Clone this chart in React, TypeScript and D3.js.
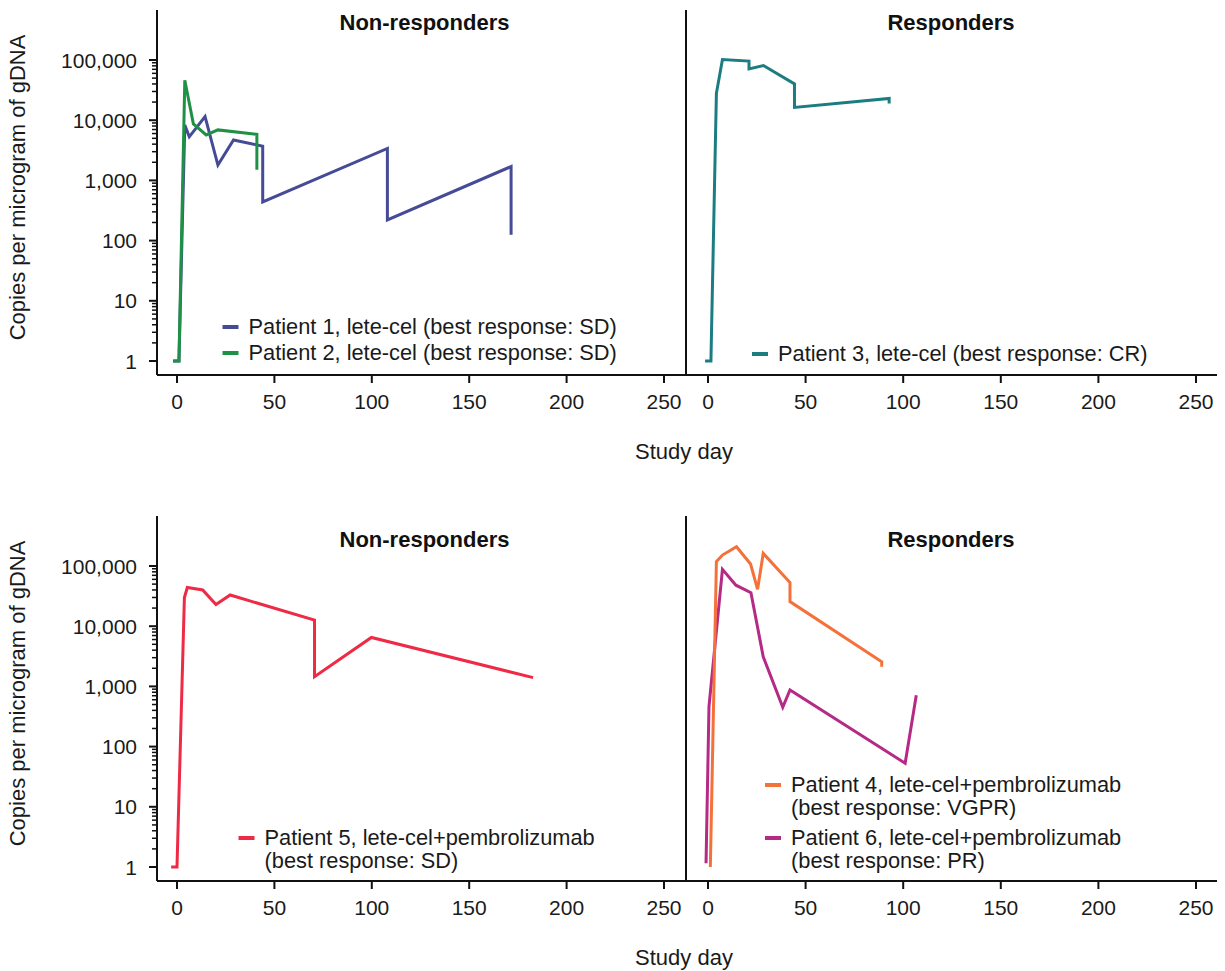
import React from "react";
import * as d3 from "d3";

// ---- Data ----
const xTicks = [0, 50, 100, 150, 200, 250];
const yMajorTicks = [1, 10, 100, 1000, 10000, 100000];
const yTickLabels = ["1", "10", "100", "1,000", "10,000", "100,000"];
const panelTitles = ["Non-responders", "Responders"];
const xAxisTitle = "Study day";
const yAxisTitle = "Copies per microgram of gDNA";

const p1Days = [-2, 1, 4, 6.3, 14.4, 21, 29, 44, 44, 108, 108, 171.5, 171.5];
const p1Values = [1, 1, 8300, 5300, 11500, 1800, 4700, 3700, 440, 3400, 220, 1700, 125];

const p2Days = [-2, 1, 4, 8.4, 15, 21, 41, 41];
const p2Values = [1, 1, 46000, 8700, 5700, 6900, 5800, 1500];

const p3Days = [-1.5, 1.5, 4.3, 7.4, 21, 21, 28.4, 44.3, 44.3, 92.8, 92.8];
const p3Values = [1, 1, 28000, 102000, 96000, 71000, 81000, 40000, 16300, 23000, 19000];

const p5Days = [-3, 0, 3.8, 5.3, 13.2, 20, 27.3, 70.6, 70.6, 99.8, 182.8];
const p5Values = [1, 1, 30000, 44000, 40000, 23000, 33000, 12600, 1450, 6500, 1400];

const p4Days = [1.2, 4.3, 7.4, 14.6, 21.8, 25.4, 28.3, 42, 42, 89, 89];
const p4Values = [1, 118000, 152000, 209000, 108000, 41000, 162000, 53000, 25600, 2570, 2130];

const p6Days = [-1, 0.5, 7.4, 14.3, 22, 28.3, 38.3, 42, 101, 106.7];
const p6Values = [1.15, 460, 88000, 48000, 36000, 3100, 450, 870, 53, 710];

const p1Label = ["Patient 1, lete-cel (best response: SD)"];
const p2Label = ["Patient 2, lete-cel (best response: SD)"];
const p3Label = ["Patient 3, lete-cel (best response: CR)"];
const p5Label = ["Patient 5, lete-cel+pembrolizumab", "(best response: SD)"];
const p4Label = ["Patient 4, lete-cel+pembrolizumab", "(best response: VGPR)"];
const p6Label = ["Patient 6, lete-cel+pembrolizumab", "(best response: PR)"];

// ---- Layout ----
const W = 1225;
const H = 971;
const FONT = "'Liberation Sans', Arial, Helvetica, sans-serif";
const rowOffsets = [0, 506];
const colExtents = [
  [157, 686],
  [686, 1217],
];
const colTickRange = [
  [177, 664],
  [708, 1196],
];
const titleX = [424.5, 951];
const titleBaseline = [29.5, 547];

type Series = {
  days: number[];
  values: number[];
  color: string;
  row: number;
  col: number;
};

const series: Series[] = [
  { days: p1Days, values: p1Values, color: "#454b97", row: 0, col: 0 },
  { days: p2Days, values: p2Values, color: "#1f9146", row: 0, col: 0 },
  { days: p3Days, values: p3Values, color: "#1b7c82", row: 0, col: 1 },
  { days: p5Days, values: p5Values, color: "#ee2a45", row: 1, col: 0 },
  { days: p6Days, values: p6Values, color: "#b42a85", row: 1, col: 1 },
  { days: p4Days, values: p4Values, color: "#f5713a", row: 1, col: 1 },
];

type Legend = { lines: string[]; color: string; x: number; y: number };
const legends: Legend[] = [
  { lines: p1Label, color: "#454b97", x: 222.5, y: 327 },
  { lines: p2Label, color: "#1f9146", x: 222.5, y: 353 },
  { lines: p3Label, color: "#1b7c82", x: 752, y: 354 },
  { lines: p5Label, color: "#ee2a45", x: 238.5, y: 838 },
  { lines: p4Label, color: "#f5713a", x: 765, y: 785 },
  { lines: p6Label, color: "#b42a85", x: 765, y: 838 },
];

function xScale(col: number) {
  return d3.scaleLinear().domain([0, 250]).range(colTickRange[col]);
}
function yScale(row: number) {
  const o = rowOffsets[row];
  return d3.scaleLog().domain([1, 100000]).range([361 + o, 60 + o]);
}

export default function App() {
  const axisColor = "#111";
  return (
    <svg
      width={W}
      height={H}
      viewBox={`0 0 ${W} ${H}`}
      style={{ position: "absolute", left: 0, top: 0, background: "#fff" }}
      fontFamily={FONT}
    >
      <rect x={0} y={0} width={W} height={H} fill="#fff" />
      {rowOffsets.map((o, row) => {
        const y = yScale(row);
        const minor = y.ticks().filter((v) => !yMajorTicks.includes(v));
        return (
          <g key={"row" + row}>
            {/* y-axis (left) */}
            <line x1={157} x2={157} y1={10 + o} y2={375 + o} stroke={axisColor} strokeWidth={2} />
            {yMajorTicks.map((v, i) => (
              <g key={"yt" + v}>
                <line x1={149} x2={157} y1={y(v)} y2={y(v)} stroke={axisColor} strokeWidth={2} />
                <text
                  x={137}
                  y={y(v)}
                  textAnchor="end"
                  dominantBaseline="central"
                  fontSize={21}
                  fill="#1a1a1a"
                >
                  {yTickLabels[i]}
                </text>
              </g>
            ))}
            {minor.map((v) => (
              <line key={"ym" + v} x1={152} x2={157} y1={y(v)} y2={y(v)} stroke={axisColor} strokeWidth={1.5} />
            ))}
            {/* divider / right panel y axis */}
            <line x1={686} x2={686} y1={10 + o} y2={375 + o} stroke={axisColor} strokeWidth={2} />
            {/* y axis title */}
            <text
              transform={`translate(25,${187.5 + o}) rotate(-90)`}
              textAnchor="middle"
              fontSize={22}
              fill="#1a1a1a"
            >
              {yAxisTitle}
            </text>
            {/* x axes */}
            {colExtents.map((ext, col) => {
              const x = xScale(col);
              return (
                <g key={"xa" + col}>
                  <line x1={ext[0]} x2={ext[1]} y1={375 + o} y2={375 + o} stroke={axisColor} strokeWidth={2} />
                  {xTicks.map((t) => (
                    <g key={"xt" + t}>
                      <line x1={x(t)} x2={x(t)} y1={375 + o} y2={383 + o} stroke={axisColor} strokeWidth={2} />
                      <text x={x(t)} y={409 + o} textAnchor="middle" fontSize={21} fill="#1a1a1a">
                        {t}
                      </text>
                    </g>
                  ))}
                  <text
                    x={titleX[col]}
                    y={titleBaseline[row]}
                    textAnchor="middle"
                    fontSize={22}
                    fontWeight="bold"
                    fill="#111"
                  >
                    {panelTitles[col]}
                  </text>
                </g>
              );
            })}
            <text x={684} y={459 + o} textAnchor="middle" fontSize={22} fill="#1a1a1a">
              {xAxisTitle}
            </text>
          </g>
        );
      })}
      {/* data lines */}
      {series.map((s, i) => {
        const x = xScale(s.col);
        const y = yScale(s.row);
        const pts: [number, number][] = s.days.map((d, k) => [d, s.values[k]]);
        const path = d3
          .line<[number, number]>()
          .x((p) => x(p[0]))
          .y((p) => y(p[1]))(pts);
        return (
          <path
            key={"s" + i}
            d={path || ""}
            fill="none"
            stroke={s.color}
            strokeWidth={3}
            strokeLinejoin="miter"
            strokeMiterlimit={4}
          />
        );
      })}
      {/* legends */}
      {legends.map((l, i) => (
        <g key={"lg" + i}>
          <line x1={l.x} x2={l.x + 16} y1={l.y} y2={l.y} stroke={l.color} strokeWidth={4} />
          {l.lines.map((t, k) => (
            <text key={k} x={l.x + 26} y={l.y + 7 + k * 23} fontSize={21.8} fill="#1a1a1a">
              {t}
            </text>
          ))}
        </g>
      ))}
    </svg>
  );
}
